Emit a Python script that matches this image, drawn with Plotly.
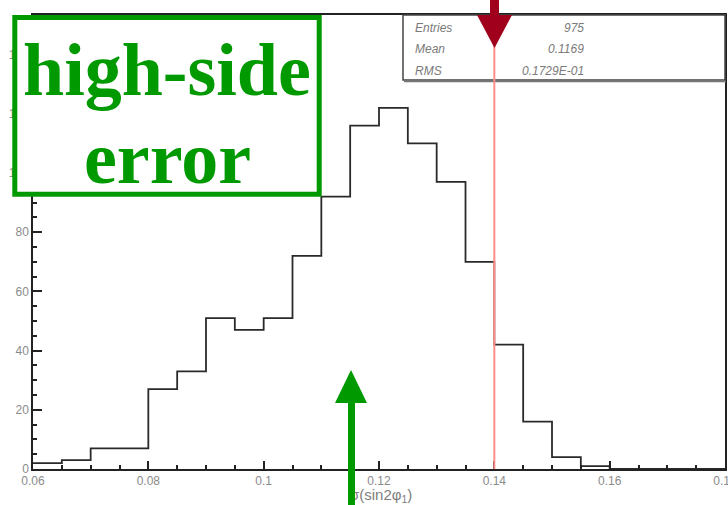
import plotly.graph_objects as go

# ---- data ----
bin_left = [0.060, 0.065, 0.070, 0.075, 0.080, 0.085, 0.090, 0.095,
            0.100, 0.105, 0.110, 0.115, 0.120, 0.125, 0.130, 0.135,
            0.140, 0.145, 0.150, 0.155, 0.160, 0.165, 0.170, 0.175]
counts = [2, 3, 7, 7, 27, 33, 51, 47,
          51, 72, 92, 116, 122, 110, 97, 70,
          42, 16, 4, 1, 0, 0, 0, 0]
bin_width = 0.005
x_tick_vals = [0.06, 0.08, 0.10, 0.12, 0.14, 0.16, 0.18]
x_tick_text = ["0.06", "0.08", "0.1", "0.12", "0.14", "0.16", "0.18"]
y_tick_vals = [0, 20, 40, 60, 80, 100, 120, 140]
y_tick_text = ["0", "20", "40", "60", "80", "100", "120", "140"]
stats_labels = ["Entries", "Mean", "RMS"]
stats_values = ["975", "0.1169", "0.1729E-01"]
marker_x = 0.14          # red vertical line
box_lines = ["high-side", "error"]
x_title = "σ(sin2φ<sub>1</sub>)"

# ---- layout geometry (pixels) ----
W, H = 728, 505
L, R, T, B = 33, 725, 15, 469


def px(x):
    return (x - L) / (R - L)


def py(y):
    return (B - y) / (B - T)


step_x = bin_left + [bin_left[-1] + bin_width]
step_y = counts + [counts[-1]]

fig = go.Figure()
fig.add_trace(go.Scatter(
    x=step_x, y=step_y, mode="lines", line_shape="hv",
    line=dict(color="#2a2a2a", width=1.8), hoverinfo="skip", showlegend=False))

tick_font = dict(family="Liberation Sans, Arial, sans-serif", size=12, color="#8a8a8a")

fig.update_layout(
    width=W, height=H,
    margin=dict(l=L, r=W - R, t=T, b=H - B, autoexpand=False),
    paper_bgcolor="white", plot_bgcolor="white",
    showlegend=False,
    xaxis=dict(range=[0.06, 0.18000001], tickvals=x_tick_vals, ticktext=x_tick_text,
               ticks="inside", ticklen=8, tickwidth=1.5, tickcolor="#222",
               minor=dict(dtick=0.005, tick0=0.06, ticks="inside", ticklen=4,
                          tickwidth=1.5, tickcolor="#222", showgrid=False),
               showline=True, linecolor="#222", linewidth=1.5, mirror=True,
               showgrid=False, zeroline=False, tickfont=tick_font,
               ticklabeloverflow="allow"),
    yaxis=dict(range=[0, 153.4], tickvals=y_tick_vals, ticktext=y_tick_text,
               ticks="inside", ticklen=9, tickwidth=1.5, tickcolor="#222",
               minor=dict(dtick=5, tick0=0, ticks="inside", ticklen=4,
                          tickwidth=1.5, tickcolor="#222", showgrid=False),
               showline=True, linecolor="#222", linewidth=1.5, mirror=True,
               showgrid=False, zeroline=False, tickfont=tick_font,
               ticklabeloverflow="allow"),
)

shapes = []
# stats box
shapes.append(dict(type="rect", xref="paper", yref="paper",
                   x0=px(403), x1=px(725), y0=py(80), y1=py(15),
                   line=dict(color="#444", width=1.5), layer="above"))
shapes.append(dict(type="line", xref="paper", yref="paper",
                   x0=px(404), x1=px(726), y0=py(81.5), y1=py(81.5),
                   line=dict(color="#777", width=1.5), layer="above"))
# red line
shapes.append(dict(type="line", xref="x", yref="paper",
                   x0=marker_x, x1=marker_x, y0=0, y1=py(45),
                   line=dict(color="#ff8c8c", width=2), layer="above"))
# red arrow (shaft + head)
rc = 494.5
shapes.append(dict(type="path", xref="paper", yref="paper", layer="above",
                   path=f"M {px(rc-4.5)},{py(-2)} L {px(rc+4.5)},{py(-2)} L {px(rc+4.5)},{py(16)} L {px(rc-4.5)},{py(16)} Z",
                   fillcolor="#a0001c", line=dict(width=0)))
shapes.append(dict(type="path", xref="paper", yref="paper", layer="above",
                   path=f"M {px(rc-17.5)},{py(15)} L {px(rc+17.5)},{py(15)} L {px(rc)},{py(48)} Z",
                   fillcolor="#a0001c", line=dict(width=0)))
# green arrow head
gc = 351
shapes.append(dict(type="path", xref="paper", yref="paper", layer="above",
                   path=f"M {px(gc-16)},{py(403)} L {px(gc+16)},{py(403)} L {px(gc)},{py(370)} Z",
                   fillcolor="#009900", line=dict(width=0)))
# green box
shapes.append(dict(type="rect", xref="paper", yref="paper",
                   x0=px(14.8), x1=px(319.2), y0=py(194.2), y1=py(17.5),
                   line=dict(color="#009900", width=5), fillcolor="white", layer="above"))
fig.update_layout(shapes=shapes)

ann = []
# axis title
ann.append(dict(xref="paper", yref="paper", x=px(381), y=py(495), text=x_title,
                showarrow=False, xanchor="center", yanchor="middle",
                font=dict(family="Liberation Sans, Arial, sans-serif", size=15, color="#808080")))
# green arrow shaft (drawn above the title)
ann.append(dict(xref="paper", yref="paper", x=px(gc), y=py(402), text=" ",
                showarrow=False, xanchor="center", yanchor="top",
                width=7, height=104, bgcolor="#009900", borderpad=0, borderwidth=0,
                font=dict(size=1, color="#009900")))
# stats text
rows_y = [28, 49, 70.5]
sfont = dict(family="Liberation Sans, Arial, sans-serif", size=12, color="#7a7a7a")
for lab, val, yy in zip(stats_labels, stats_values, rows_y):
    ann.append(dict(xref="paper", yref="paper", x=px(413), y=py(yy), text=f"<i>{lab}</i>",
                    showarrow=False, xanchor="left", yanchor="middle", font=sfont))
    ann.append(dict(xref="paper", yref="paper", x=px(586), y=py(yy), text=f"<i>{val}</i>",
                    showarrow=False, xanchor="right", yanchor="middle", font=sfont))
# green box text
bfont = dict(family="Liberation Serif, Times New Roman, serif", size=74, color="#009900", weight="bold")
ann.append(dict(xref="paper", yref="paper", x=px(167), y=py(70), text=f"<b>{box_lines[0]}</b>",
                showarrow=False, xanchor="center", yanchor="middle", font=bfont))
ann.append(dict(xref="paper", yref="paper", x=px(167), y=py(158), text=f"<b>{box_lines[1]}</b>",
                showarrow=False, xanchor="center", yanchor="middle", font=bfont))
fig.update_layout(annotations=ann)

fig.write_html("out.html", config={"displayModeBar": False},
               post_script="document.body.style.margin='0';document.body.style.padding='0';")
